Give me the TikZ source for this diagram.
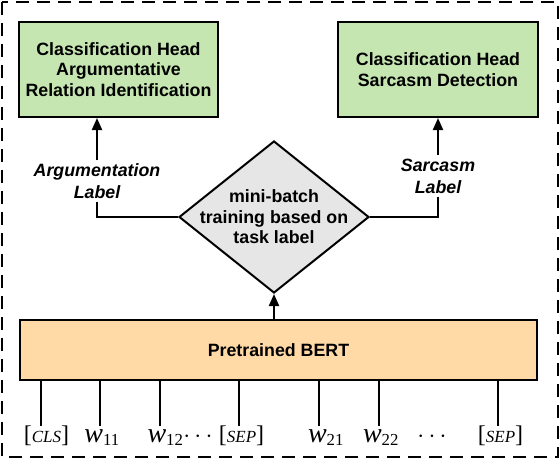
\documentclass[tikz,border=0pt]{standalone}
\usepackage{fontspec}
\setmainfont{Liberation Sans}
\newfontfamily\tokfont{Liberation Serif}
\usetikzlibrary{shapes.geometric,arrows.meta}
\definecolor{headgreen}{RGB}{198,230,177}
\definecolor{bertpeach}{RGB}{255,217,166}
\definecolor{mixgray}{RGB}{230,230,230}
\newcommand{\tokw}[1]{{\fontsize{28}{30}\selectfont\textit{w}}\textsubscript{#1}}
\newcommand{\tokbr}[1]{[{\fontsize{17}{20}\selectfont\itshape #1}]}

\begin{document}
\begin{tikzpicture}[x=1pt,y=-1pt,
  boxfont/.style={font=\bfseries\fontsize{17.8}{20.5}\selectfont},
  headbox/.style={boxfont,draw,line width=2pt,fill=headgreen,align=center,minimum height=95pt,inner sep=0pt},
  lab/.style={font=\bfseries\itshape\fontsize{17.8}{22}\selectfont,align=center,inner sep=3pt},
  tok/.style={font=\tokfont\fontsize{24}{28}\selectfont,inner sep=0pt,anchor=base},
  conn/.style={line width=2pt},
  arr/.style={conn,-{Triangle[width=10pt,length=12pt]}}]
\useasboundingbox (0,0) rectangle (560,460);
\draw[line width=1.5pt,dash pattern=on 13pt off 8pt] (2,2) rectangle (558,457);

\node[headbox,minimum width=199pt] (arghead) at (118.5,69.5) {Classification Head\\Argumentative\\Relation Identification};
\node[headbox,minimum width=200pt] (sarhead) at (438,69.5) {Classification Head\\Sarcasm Detection};
\node[diamond,draw,line width=2pt,fill=mixgray,minimum width=190pt,minimum height=152pt,inner sep=0pt] (mix) at (274,217) {};
\node[boxfont,align=center] (mixtext) at (mix.center) {mini-batch\\training based on\\task label};
\node[draw,line width=2pt,fill=bertpeach,boxfont,minimum width=517pt,minimum height=60pt] (bert) at (278.5,350) {Pretrained BERT};

\node[lab] (arglab) at (97,181) {Argumentation\\Label};
\node[lab] (sarlab) at (438,176) {Sarcasm\\Label};
\draw[arr] (arglab.north) -- (arglab.north |- arghead.south);
\draw[arr] (sarlab.north) -- (sarhead.south);
\draw[conn] (mix.west) -| (arglab.south);
\draw[conn] (mix.east) -| (sarlab.south);
\draw[arr] (mix.south |- bert.north) -- (mix.south);

\foreach \i/\x/\c/\toktext in {1/41/46.5/{\tokbr{CLS}},2/100/102/{\tokw{11}},3/160/180/{\tokw{12}$\cdots$},
  4/239/241.5/{\tokbr{SEP}},5/319/326/{\tokw{21}},6/379/381/{\tokw{22}},7/498/500.5/{\tokbr{SEP}}}{
  \coordinate (in\i) at (\x,426);
  \node[tok] (tok\i) at (\c,442) {\toktext};
  \draw[conn] (in\i |- bert.south) -- (in\i);
}
\node[tok] (dots) at (432,442) {$\cdots$};
\end{tikzpicture}
\end{document}
